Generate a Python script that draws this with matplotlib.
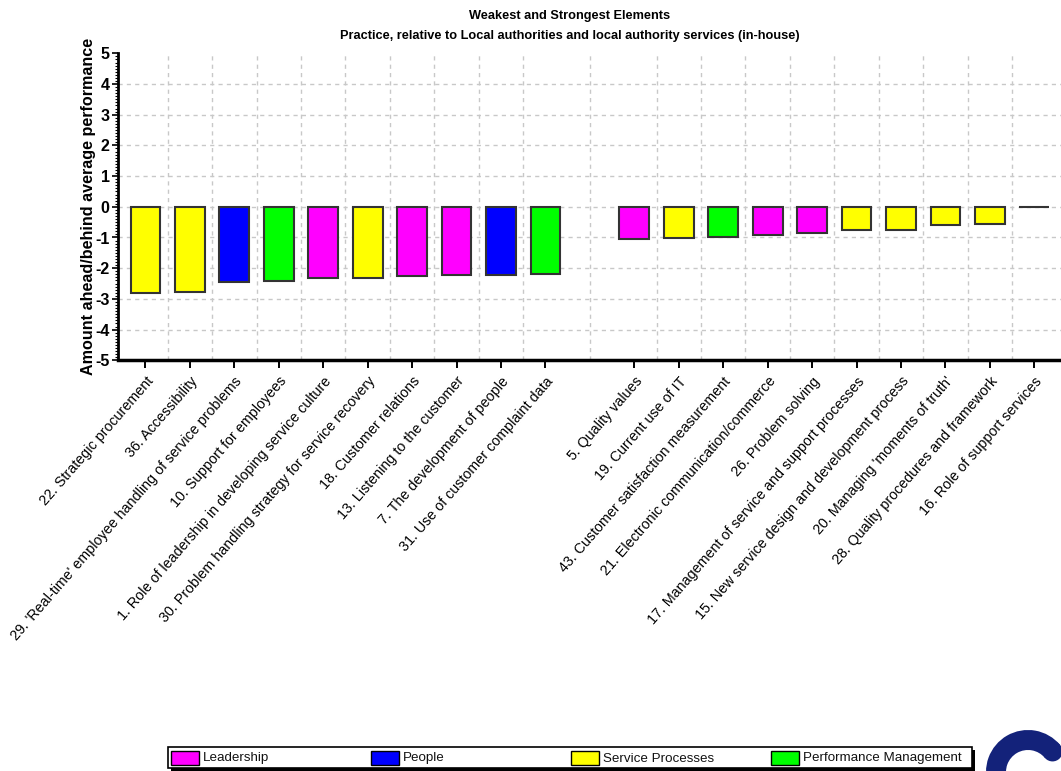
import matplotlib
matplotlib.use("Agg")
import matplotlib.pyplot as plt
from matplotlib.patches import Rectangle, Wedge, Circle
from matplotlib.ticker import MultipleLocator

plt.rcParams["axes.unicode_minus"] = False

# ---- data -------------------------------------------------------------
weak_labels = [
    "22. Strategic procurement",
    "36. Accessibility",
    "29. 'Real-time' employee handling of service problems",
    "10. Support for employees",
    "1. Role of leadership in developing service culture",
    "30. Problem handling strategy for service recovery",
    "18. Customer relations",
    "13. Listening to the customer",
    "7. The development of people",
    "31. Use of customer complaint data",
]
weak_values = [-2.82, -2.79, -2.45, -2.41, -2.31, -2.31, -2.27, -2.23, -2.23, -2.19]
weak_groups = ["Service Processes", "Service Processes", "People",
               "Performance Management", "Leadership", "Service Processes",
               "Leadership", "Leadership", "People", "Performance Management"]

strong_labels = [
    "5. Quality values",
    "19. Current use of IT",
    "43. Customer satisfaction measurement",
    "21. Electronic communication/commerce",
    "26. Problem solving",
    "17. Management of service and support processes",
    "15. New service design and development process",
    "20. Managing 'moments of truth'",
    "28. Quality procedures and framework",
    "16. Role of support services",
]
strong_values = [-1.04, -1.01, -0.97, -0.92, -0.84, -0.76, -0.76, -0.60, -0.56, 0.0]
strong_groups = ["Leadership", "Service Processes", "Performance Management",
                 "Leadership", "Leadership", "Service Processes",
                 "Service Processes", "Service Processes", "Service Processes",
                 "Service Processes"]

legend_groups = ["Leadership", "People", "Service Processes", "Performance Management"]
group_colors = {"Leadership": "#FF00FF", "People": "#0000FF",
                "Service Processes": "#FFFF00", "Performance Management": "#00FF00"}

title_lines = ["Weakest and Strongest Elements",
               "Practice, relative to Local authorities and local authority services (in-house)"]
y_label = "Amount ahead/behind average performance"

# ---- layout -----------------------------------------------------------
W, H = 1061, 771
narrow = ["Liberation Sans Narrow", "Liberation Sans", "DejaVu Sans"]
sans = ["Liberation Sans", "DejaVu Sans"]

fig = plt.figure(figsize=(W / 100, H / 100), dpi=100)
fig.patch.set_facecolor("white")

ax_left, ax_right, ax_top, ax_bottom = 118, 1061, 53.3, 360.3
ax = fig.add_axes([ax_left / W, 1 - ax_bottom / H,
                   (ax_right - ax_left) / W, (ax_bottom - ax_top) / H])

# weak group in slots 0-9, one empty slot, strong group in slots 11-20
n_weak = len(weak_values)
weak_x = list(range(n_weak))
strong_x = [n_weak + 1 + i for i in range(len(strong_values))]
xs = weak_x + strong_x
values = weak_values + strong_values
labels = weak_labels + strong_labels
colors = [group_colors[g] for g in weak_groups + strong_groups]

ax.bar(xs, values, width=0.67, color=colors, edgecolor="#333333",
       linewidth=1.5, zorder=3)

ax.set_xlim(-0.617, 20.6)
ax.set_ylim(-5, 5)

# grid: dashed lines between bars and through the gap
grid_x = [i + 0.5 for i in weak_x[:-1]] + [n_weak] + [i + 0.5 for i in strong_x[:-1]]
for gx in grid_x:
    ax.axvline(gx, color="#c8c8c8", lw=1, ls=(0, (3, 3)), zorder=1)
for gy in range(-4, 5):
    ax.axhline(gy, color="#c8c8c8", lw=1, ls=(0, (3, 3)), zorder=1)

for s in ["top", "right"]:
    ax.spines[s].set_visible(False)
ax.spines["left"].set_linewidth(2)
ax.spines["bottom"].set_linewidth(2.5)
ax.spines["bottom"].set_zorder(4)

ax.set_yticks(range(-5, 6))
ax.yaxis.set_minor_locator(MultipleLocator(0.1))
ax.tick_params(axis="y", which="major", length=4, width=1.2, pad=2,
               labelsize=11.5)
ax.tick_params(axis="y", which="minor", length=2.5, width=0.8)
for t in ax.get_yticklabels():
    t.set_fontfamily(narrow)
    t.set_fontweight("bold")

ax.set_xticks(xs)
ax.set_xticklabels(labels, rotation=49, ha="right", va="top",
                   rotation_mode="anchor", fontsize=10.3, family=sans)
ax.tick_params(axis="x", which="major", length=6, width=1.4, pad=4)
ax.tick_params(axis="x", which="minor", length=0)

ax.set_ylabel(y_label, fontsize=11.6, fontweight="bold", family=sans)
ax.yaxis.set_label_coords(-0.0235, 0.5)

fig.text(570 / W, 1 - 16.5 / H, title_lines[0], ha="center", va="center",
         fontsize=9.2, fontweight="bold", family=narrow)
fig.text(570 / W, 1 - 35.5 / H, title_lines[1], ha="center", va="center",
         fontsize=9.2, fontweight="bold", family=narrow)

# ---- legend and logo, drawn in pixel coordinates -----------------------
ov = fig.add_axes([0, 0, 1, 1], zorder=10)
ov.set_xlim(0, W)
ov.set_ylim(H, 0)
ov.axis("off")
ov.patch.set_alpha(0)

ov.add_patch(Rectangle((171, 750), 804, 21, facecolor="black", edgecolor="none"))
ov.add_patch(Rectangle((168, 747), 804, 21, facecolor="white",
                       edgecolor="black", linewidth=1.2))
for i, g in enumerate(legend_groups):
    x0 = 171 + 200 * i
    ov.add_patch(Rectangle((x0, 751), 28, 14, facecolor=group_colors[g],
                           edgecolor="black", linewidth=1))
    ov.text(x0 + 32, 758.5, g, ha="left", va="center", fontsize=9.6,
            family=narrow, color="#111111")

navy = "#13227a"
ov.add_patch(Wedge((1028, 772), 42, 160, 320, width=20, facecolor=navy,
                   edgecolor="none"))
ov.add_patch(Circle((1028 + 32 * 0.766, 772 - 32 * 0.643), 10,
                    facecolor=navy, edgecolor="none"))

fig.savefig("out.png", dpi=100, facecolor="white")
